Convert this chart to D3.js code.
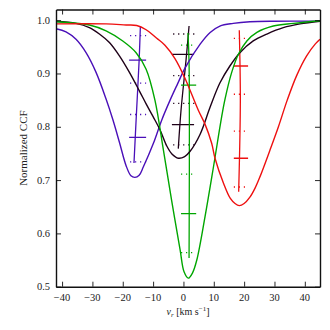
<!DOCTYPE html>
<html>
<head>
<meta charset="utf-8">
<script src="https://cdn.jsdelivr.net/npm/d3@7"></script>
<style>
  body { margin: 0; background: #fff; }
  svg { display: block; }
  text { font-family: "Liberation Serif", "DejaVu Serif", serif; }
</style>
</head>
<body>
<div id="chart"></div>
<script>
// Chart size
const w = 330;
const h = 330;
const margins = { top: 9.5, right: 10, bottom: 43.3, left: 56 };
const innerWidth = w - margins.left - margins.right;
const innerHeight = h - margins.top - margins.bottom;

// Tick values
const xTicks = [-40, -30, -20, -10, 0, 10, 20, 30, 40];
const yTicks = [0.5, 0.6, 0.7, 0.8, 0.9, 1.0];

// CCF profiles, [velocity, normalized CCF]
const purpleCCF = [[-42, 0.984], [-38.7, 0.978], [-35.4, 0.964], [-32.1, 0.939], [-28.8, 0.902],
  [-25.5, 0.852], [-23.3, 0.814], [-21.1, 0.771], [-18.9, 0.727], [-17.3, 0.708], [-16.0, 0.705],
  [-14.6, 0.709], [-13.2, 0.725], [-9.9, 0.769], [-7.2, 0.812], [-4.4, 0.850], [-1.9, 0.881],
  [0.5, 0.910], [5.5, 0.955], [8.8, 0.977], [12.0, 0.989], [16.4, 0.994], [21.9, 0.997],
  [30, 0.998], [45, 0.998]];

const blackCCF = [[-42, 0.998], [-35.4, 0.994], [-31.0, 0.986], [-27.7, 0.974], [-24.4, 0.958],
  [-21.1, 0.933], [-17.8, 0.902], [-14.5, 0.867], [-12.3, 0.843], [-10.0, 0.819], [-7.7, 0.794],
  [-5.5, 0.764], [-3.8, 0.749], [-1.7, 0.741], [0.4, 0.744], [2.2, 0.754], [5.5, 0.786],
  [8.8, 0.837], [12.0, 0.882], [15.3, 0.914], [18.6, 0.939], [23.0, 0.961], [27.5, 0.974],
  [32.9, 0.986], [38.4, 0.993], [45, 0.998]];

const greenCCF = [[-42, 0.997], [-31.0, 0.991], [-25.5, 0.980], [-20.0, 0.961], [-15.6, 0.939],
  [-12.3, 0.908], [-9.4, 0.850], [-6.6, 0.756], [-3.9, 0.662], [-1.1, 0.569], [0.2, 0.528],
  [1.6, 0.516], [3.0, 0.526], [4.4, 0.550], [7.1, 0.631], [9.9, 0.725], [12.6, 0.819],
  [13.7, 0.852], [15.9, 0.902], [18.1, 0.936], [20.9, 0.961], [24.2, 0.977], [29.6, 0.989],
  [36.2, 0.994], [45, 0.999]];

const redCCF = [[-42, 0.993], [-25.5, 0.993], [-18.9, 0.991], [-15.4, 0.990], [-12.3, 0.982],
  [-8.8, 0.966], [-6.1, 0.953], [-2.8, 0.928], [0.5, 0.891], [4.9, 0.831], [7.1, 0.805],
  [9.3, 0.769], [10.4, 0.741], [13.2, 0.694], [15.4, 0.666], [17.0, 0.656], [18.4, 0.652],
  [20.0, 0.656], [21.9, 0.668], [23.6, 0.685], [25.2, 0.706], [28.5, 0.756], [31.3, 0.800],
  [34.2, 0.850], [37.3, 0.896], [40.6, 0.933], [43.4, 0.955], [45, 0.964]];

// Bisectors, [velocity, CCF level]
const purpleBisector = [[-14.2, 0.987], [-14.6, 0.925], [-15.5, 0.824], [-16.3, 0.732]];
const blackBisector = [[1.85, 0.989], [0.85, 0.925], [-0.8, 0.831], [-1.7, 0.759]];
const greenBisector = [[1.5, 0.976], [1.85, 0.92], [1.85, 0.554]];
const redBisector = [[18.4, 0.981], [18.75, 0.85], [18.2, 0.678]];

// Solid bars: level, velocity from, velocity to
const purpleBars = [[0.925, -17.9, -12.3], [0.780, -17.9, -12.3]];
const blackBars = [[0.936, -3.8, 3.5], [0.804, -3.8, 3.5]];
const greenBars = [[0.878, -0.8, 4.2], [0.637, -0.8, 4.2]];
const redBars = [[0.914, 16.6, 21.3], [0.741, 16.6, 21.3]];

// Dotted bars: level, velocity from, velocity to
const purpleDots = [[0.971, -17.6, -12.3], [0.882, -17.6, -12.3], [0.823, -17.6, -12.3], [0.734, -17.6, -12.3]];
const blackDots = [[0.974, -3.4, 3.6], [0.896, -3.4, 3.6], [0.844, -3.4, 3.6], [0.766, -3.4, 3.6]];
const greenDots = [[0.953, -0.8, 2.9], [0.711, -0.8, 2.9], [0.564, -0.8, 2.9]];
const redDots = [[0.966, 16.6, 20.3], [0.861, 16.6, 20.3], [0.792, 16.6, 20.3], [0.687, 16.6, 20.3]];

const series = [
  { color: "#4a0fb8", ccf: purpleCCF, bis: purpleBisector, bars: purpleBars, dots: purpleDots },
  { color: "#1e0018", ccf: blackCCF, bis: blackBisector, bars: blackBars, dots: blackDots },
  { color: "#00a600", ccf: greenCCF, bis: greenBisector, bars: greenBars, dots: greenDots },
  { color: "#ee1010", ccf: redCCF, bis: redBisector, bars: redBars, dots: redDots }
];

const svg = d3.select("#chart")
  .append("svg")
    .attr("width", w)
    .attr("height", h);

// Scales work in absolute svg coordinates
const xScale = d3.scaleLinear().domain([-42, 45]).range([margins.left, w - margins.right]);
const yScale = d3.scaleLinear().domain([0.5, 1.02]).range([h - margins.bottom, margins.top]);

svg.append("clipPath").attr("id", "clip")
  .append("rect")
    .attr("x", margins.left).attr("y", margins.top)
    .attr("width", innerWidth).attr("height", innerHeight);

const plotG = svg.append("g").attr("clip-path", "url(#clip)");

const ccfLine = d3.line()
  .x(d => xScale(d[0]))
  .y(d => yScale(d[1]))
  .curve(d3.curveCatmullRom.alpha(0.5));

const bisLine = d3.line()
  .x(d => xScale(d[0]))
  .y(d => yScale(d[1]))
  .curve(d3.curveCatmullRom);

// markers first, then profiles on top
series.forEach(s => {
  plotG.append("path")
    .attr("d", bisLine(s.bis))
    .attr("fill", "none")
    .attr("stroke", s.color)
    .attr("stroke-width", 1.3);

  plotG.selectAll(null)
    .data(s.bars)
    .enter()
    .append("line")
      .attr("x1", d => xScale(d[1]))
      .attr("x2", d => xScale(d[2]))
      .attr("y1", d => yScale(d[0]))
      .attr("y2", d => yScale(d[0]))
      .attr("stroke", s.color)
      .attr("stroke-width", 1.3);

  plotG.selectAll(null)
    .data(s.dots)
    .enter()
    .append("line")
      .attr("x1", d => xScale(d[1]))
      .attr("x2", d => xScale(d[2]))
      .attr("y1", d => yScale(d[0]))
      .attr("y2", d => yScale(d[0]))
      .attr("stroke", s.color)
      .attr("stroke-width", 1.3)
      .attr("stroke-dasharray", "1.2,3.8");
});

series.forEach(s => {
  plotG.append("path")
    .attr("d", ccfLine(s.ccf))
    .attr("fill", "none")
    .attr("stroke", s.color)
    .attr("stroke-width", 1.4);
});

// Axes: ticks pointing inward on all four sides
const xAxisB = svg.append("g")
  .attr("transform", `translate(0, ${h - margins.bottom})`)
  .call(d3.axisBottom(xScale).tickValues(xTicks).tickSizeInner(-5).tickSizeOuter(0).tickFormat(""));
const xAxisT = svg.append("g")
  .attr("transform", `translate(0, ${margins.top})`)
  .call(d3.axisTop(xScale).tickValues(xTicks).tickSizeInner(-5).tickSizeOuter(0).tickFormat(""));
const yAxisL = svg.append("g")
  .attr("transform", `translate(${margins.left}, 0)`)
  .call(d3.axisLeft(yScale).tickValues(yTicks).tickSizeInner(-5).tickSizeOuter(0).tickFormat(""));
const yAxisR = svg.append("g")
  .attr("transform", `translate(${w - margins.right}, 0)`)
  .call(d3.axisRight(yScale).tickValues(yTicks).tickSizeInner(-5).tickSizeOuter(0).tickFormat(""));

[xAxisB, xAxisT, yAxisL, yAxisR].forEach(a => {
  a.selectAll("text").remove();
  a.select(".domain").attr("stroke", "#111").attr("stroke-width", 1.4);
  a.selectAll(".tick line").attr("stroke", "#111").attr("stroke-width", 0.9);
});

// tick labels
svg.selectAll(".xlab")
  .data(xTicks)
  .enter()
  .append("text")
    .attr("class", "xlab")
    .attr("x", d => xScale(d))
    .attr("y", h - margins.bottom + 14)
    .attr("text-anchor", "middle")
    .attr("font-size", 10.5)
    .attr("fill", "#222")
    .text(d => d3.format("")(d));

svg.selectAll(".ylab")
  .data(yTicks)
  .enter()
  .append("text")
    .attr("class", "ylab")
    .attr("x", margins.left - 6)
    .attr("y", d => yScale(d) + 3.5)
    .attr("text-anchor", "end")
    .attr("font-size", 10.5)
    .attr("fill", "#222")
    .text(d => d3.format(".1f")(d));

// Axis labels
const xLabel = svg.append("text")
  .attr("x", margins.left + innerWidth / 2)
  .attr("y", 315)
  .attr("text-anchor", "middle")
  .attr("font-size", 10)
  .attr("fill", "#222");
xLabel.append("tspan").attr("font-style", "italic").text("v");
xLabel.append("tspan").attr("font-style", "italic").attr("font-size", 7).attr("dy", 1.5).text("r");
xLabel.append("tspan").attr("dy", -1.5).text(" [km s");
xLabel.append("tspan").attr("font-size", 7).attr("dy", -4).text("\u22121");
xLabel.append("tspan").attr("dy", 4).text("]");

svg.append("text")
  .attr("transform", `translate(27, ${margins.top + innerHeight / 2}) rotate(-90)`)
  .attr("text-anchor", "middle")
  .attr("font-size", 11)
  .attr("fill", "#222")
  .text("Normalized CCF");
</script>
</body>
</html>
